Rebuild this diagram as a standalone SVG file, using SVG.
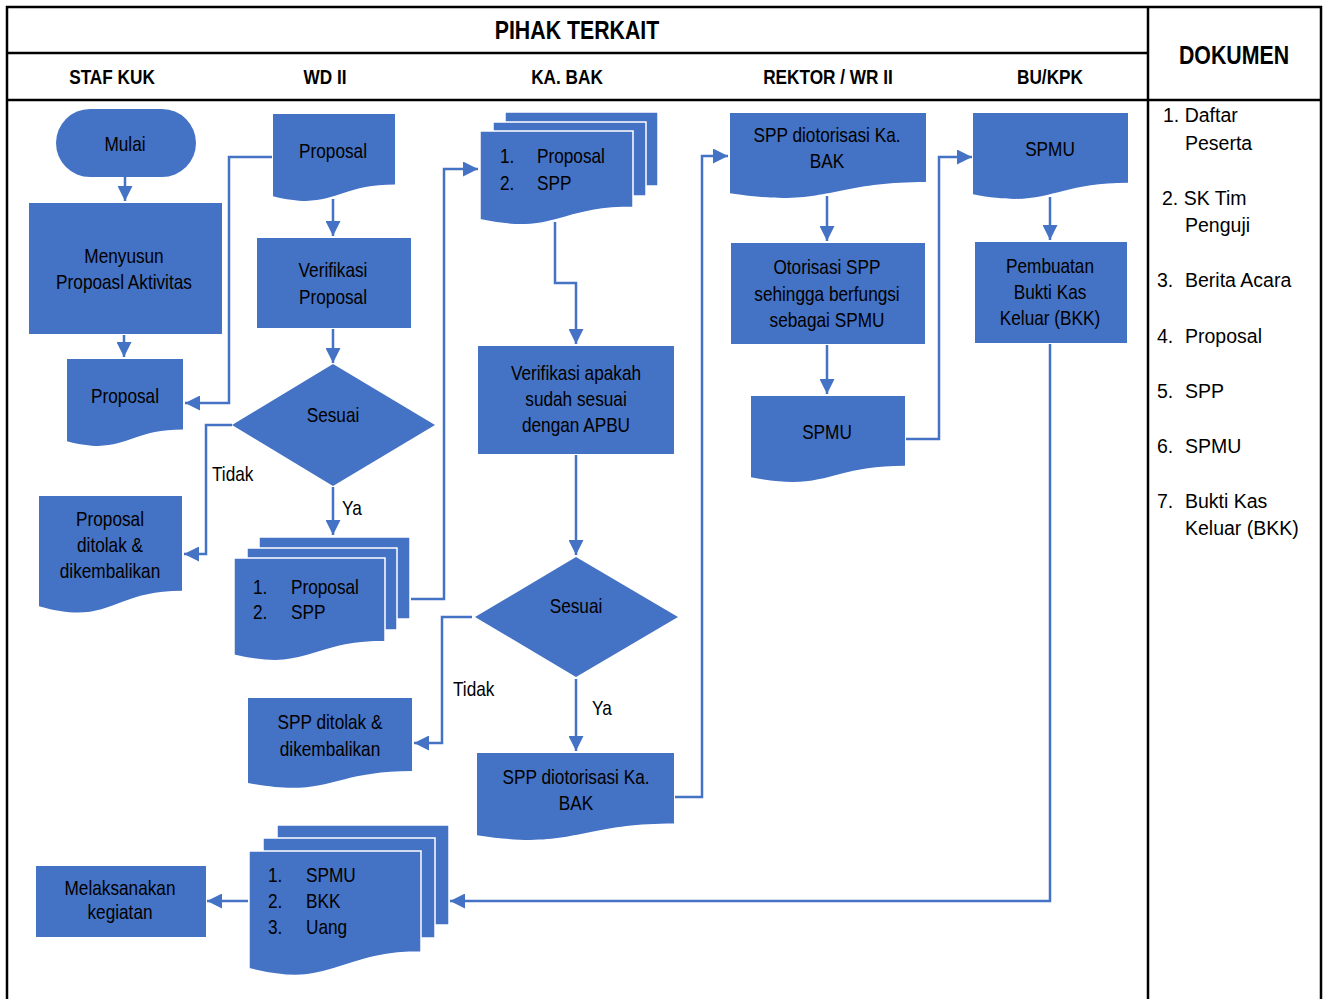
<svg xmlns="http://www.w3.org/2000/svg" width="1325" height="999" viewBox="0 0 1325 999">
<style>
.s{fill:#4472C4}
.sh{fill:#4472C4;stroke:#ffffff;stroke-width:1.5}
.t{font-family:"Liberation Sans",Arial,sans-serif;font-size:21px;fill:#000;text-anchor:middle}
.tl{font-family:"Liberation Sans",Arial,sans-serif;font-size:21px;fill:#000}
.h{font-family:"Liberation Sans",Arial,sans-serif;font-size:21px;font-weight:bold;fill:#000;text-anchor:middle}
.ht{font-family:"Liberation Sans",Arial,sans-serif;font-size:26px;font-weight:bold;fill:#000;text-anchor:middle}
.d{font-family:"Liberation Sans",Arial,sans-serif;font-size:19.5px;fill:#000}
.c{fill:none;stroke:#4472C4;stroke-width:2.5;marker-end:url(#ar)}
.g{fill:none;stroke:#000;stroke-width:2.5}
</style>
<defs>
<symbol id="doc" viewBox="0 0 100 100" preserveAspectRatio="none" overflow="visible">
<path d="M0,0 H100 V80.2 C50,80.2 50,110.75 0,93.4 Z" vector-effect="non-scaling-stroke"/>
</symbol>
<marker id="ar" viewBox="0 0 15 15" refX="15" refY="7.5" markerWidth="15" markerHeight="15" markerUnits="userSpaceOnUse" orient="auto">
<path d="M0,0 L15,7.5 L0,15 Z" fill="#4472C4"/>
</marker>
</defs>
<rect width="1325" height="999" fill="#ffffff"/>
<g id="table">
<path class="g" d="M7,999 V7 H1321 V999 M7,53 H1148 M7,100 H1321 M1148,7 V999"/>
<text class="ht" transform="translate(577,39) scale(.82,1)">PIHAK TERKAIT</text>
<text class="ht" transform="translate(1234,64) scale(.82,1)">DOKUMEN</text>
<text class="h" transform="translate(112,84) scale(.82,1)">STAF KUK</text>
<text class="h" transform="translate(325,84) scale(.82,1)">WD II</text>
<text class="h" transform="translate(567,84) scale(.82,1)">KA. BAK</text>
<text class="h" transform="translate(828,84) scale(.82,1)">REKTOR / WR II</text>
<text class="h" transform="translate(1050,84) scale(.82,1)">BU/KPK</text>
</g>
<g id="dokumen-list">
<text class="d" x="1163" y="122">1. Daftar</text>
<text class="d" x="1185" y="150">Peserta</text>
<text class="d" x="1162" y="205">2. SK Tim</text>
<text class="d" x="1185" y="232">Penguji</text>
<text class="d" x="1157" y="287">3.</text><text class="d" x="1185" y="287">Berita Acara</text>
<text class="d" x="1157" y="343">4.</text><text class="d" x="1185" y="343">Proposal</text>
<text class="d" x="1157" y="398">5.</text><text class="d" x="1185" y="398">SPP</text>
<text class="d" x="1157" y="453">6.</text><text class="d" x="1185" y="453">SPMU</text>
<text class="d" x="1157" y="508">7.</text><text class="d" x="1185" y="508">Bukti Kas</text>
<text class="d" x="1185" y="535">Keluar (BKK)</text>
</g>
<g id="connectors">
<path class="c" d="M125,177 V201"/>
<path class="c" d="M124,335 V357"/>
<path class="c" d="M272,157 H229 V403 H185"/>
<path class="c" d="M333,199 V236"/>
<path class="c" d="M333,329 V363"/>
<path class="c" d="M333,487 V535"/>
<path class="c" d="M232,425 H206 V554 H184"/>
<path class="c" d="M411,599 H444 V169 H478"/>
<path class="c" d="M555,222 V283 H576 V344"/>
<path class="c" d="M576,455 V555"/>
<path class="c" d="M576,679 V751"/>
<path class="c" d="M472,617 H442 V743 H414"/>
<path class="c" d="M675,797 H702 V156 H728"/>
<path class="c" d="M827,196 V241"/>
<path class="c" d="M827,345 V394"/>
<path class="c" d="M906,439 H939 V157 H972"/>
<path class="c" d="M1050,197 V240"/>
<path class="c" d="M1050,344 V901 H450"/>
<path class="c" d="M248,901 H207"/>
<text class="tl" transform="translate(212,481) scale(.82,1)">Tidak</text>
<text class="tl" transform="translate(342,515) scale(.82,1)">Ya</text>
<text class="tl" transform="translate(453,696) scale(.82,1)">Tidak</text>
<text class="tl" transform="translate(592,715) scale(.82,1)">Ya</text>
</g>
<g id="mulai">
<rect class="s" x="56" y="109" width="140" height="68" rx="34"/>
<text class="t" transform="translate(125,151) scale(.82,1)">Mulai</text>
</g>
<g id="menyusun">
<rect class="s" x="29" y="203" width="193" height="131"/>
<text class="t" transform="translate(124,263) scale(.82,1)">Menyusun</text>
<text class="t" transform="translate(124,289) scale(.82,1)">Propoasl Aktivitas</text>
</g>
<g id="proposal-staf">
<use href="#doc" class="s" x="67" y="359" width="116" height="88"/>
<text class="t" transform="translate(125,403) scale(.82,1)">Proposal</text>
</g>
<g id="proposal-ditolak">
<use href="#doc" class="s" x="39" y="496" width="143" height="118"/>
<text class="t" transform="translate(110,526) scale(.82,1)">Proposal</text>
<text class="t" transform="translate(110,552) scale(.82,1)">ditolak &amp;</text>
<text class="t" transform="translate(110,578) scale(.82,1)">dikembalikan</text>
</g>
<g id="proposal-wd">
<use href="#doc" class="s" x="273" y="114" width="122" height="88"/>
<text class="t" transform="translate(333,158) scale(.82,1)">Proposal</text>
</g>
<g id="verifikasi-proposal">
<rect class="s" x="257" y="238" width="154" height="90"/>
<text class="t" transform="translate(333,277) scale(.82,1)">Verifikasi</text>
<text class="t" transform="translate(333,304) scale(.82,1)">Proposal</text>
</g>
<g id="sesuai-1">
<polygon class="s" points="333,364 435,425 333,486 232,425"/>
<text class="t" transform="translate(333,422) scale(.82,1)">Sesuai</text>
</g>
<g id="multidoc-wd">
<rect class="sh" x="259" y="537" width="151" height="82"/>
<rect class="sh" x="247" y="548" width="150" height="82"/>
<use href="#doc" class="sh" x="234" y="558" width="151" height="104"/>
<text class="tl" transform="translate(253,594) scale(.82,1)">1.</text><text class="tl" transform="translate(291,594) scale(.82,1)">Proposal</text>
<text class="tl" transform="translate(253,619) scale(.82,1)">2.</text><text class="tl" transform="translate(291,619) scale(.82,1)">SPP</text>
</g>
<g id="multidoc-bak">
<rect class="sh" x="505" y="112" width="153" height="74"/>
<rect class="sh" x="493" y="122" width="153" height="74"/>
<use href="#doc" class="sh" x="480" y="131" width="153" height="95"/>
<text class="tl" transform="translate(500,163) scale(.82,1)">1.</text><text class="tl" transform="translate(537,163) scale(.82,1)">Proposal</text>
<text class="tl" transform="translate(500,190) scale(.82,1)">2.</text><text class="tl" transform="translate(537,190) scale(.82,1)">SPP</text>
</g>
<g id="verifikasi-apbu">
<rect class="s" x="478" y="346" width="196" height="108"/>
<text class="t" transform="translate(576,380) scale(.82,1)">Verifikasi apakah</text>
<text class="t" transform="translate(576,406) scale(.82,1)">sudah sesuai</text>
<text class="t" transform="translate(576,432) scale(.82,1)">dengan APBU</text>
</g>
<g id="sesuai-2">
<polygon class="s" points="576,557 678,617 576,677 475,617"/>
<text class="t" transform="translate(576,613) scale(.82,1)">Sesuai</text>
</g>
<g id="spp-ditolak">
<use href="#doc" class="s" x="248" y="698" width="164" height="91"/>
<text class="t" transform="translate(330,729) scale(.82,1)">SPP ditolak &amp;</text>
<text class="t" transform="translate(330,756) scale(.82,1)">dikembalikan</text>
</g>
<g id="spp-diotorisasi-bak">
<use href="#doc" class="s" x="477" y="753" width="197" height="88"/>
<text class="t" transform="translate(576,784) scale(.82,1)">SPP diotorisasi Ka.</text>
<text class="t" transform="translate(576,810) scale(.82,1)">BAK</text>
</g>
<g id="spp-diotorisasi-rektor">
<use href="#doc" class="s" x="730" y="113" width="196" height="86"/>
<text class="t" transform="translate(827,142) scale(.82,1)">SPP diotorisasi Ka.</text>
<text class="t" transform="translate(827,168) scale(.82,1)">BAK</text>
</g>
<g id="otorisasi">
<rect class="s" x="731" y="243" width="194" height="101"/>
<text class="t" transform="translate(827,274) scale(.82,1)">Otorisasi SPP</text>
<text class="t" transform="translate(827,301) scale(.82,1)">sehingga berfungsi</text>
<text class="t" transform="translate(827,327) scale(.82,1)">sebagai SPMU</text>
</g>
<g id="spmu-rektor">
<use href="#doc" class="s" x="751" y="396" width="154" height="87"/>
<text class="t" transform="translate(827,439) scale(.82,1)">SPMU</text>
</g>
<g id="spmu-bu">
<use href="#doc" class="s" x="973" y="113" width="155" height="87"/>
<text class="t" transform="translate(1050,156) scale(.82,1)">SPMU</text>
</g>
<g id="pembuatan-bkk">
<rect class="s" x="975" y="242" width="152" height="101"/>
<text class="t" transform="translate(1050,273) scale(.82,1)">Pembuatan</text>
<text class="t" transform="translate(1050,299) scale(.82,1)">Bukti Kas</text>
<text class="t" transform="translate(1050,325) scale(.82,1)">Keluar (BKK)</text>
</g>
<g id="multidoc-bottom">
<rect class="sh" x="277" y="825" width="172" height="100"/>
<rect class="sh" x="263" y="838" width="172" height="100"/>
<use href="#doc" class="sh" x="249" y="851" width="172" height="126"/>
<text class="tl" transform="translate(268,882) scale(.82,1)">1.</text><text class="tl" transform="translate(306,882) scale(.82,1)">SPMU</text>
<text class="tl" transform="translate(268,908) scale(.82,1)">2.</text><text class="tl" transform="translate(306,908) scale(.82,1)">BKK</text>
<text class="tl" transform="translate(268,934) scale(.82,1)">3.</text><text class="tl" transform="translate(306,934) scale(.82,1)">Uang</text>
</g>
<g id="melaksanakan">
<rect class="s" x="36" y="866" width="170" height="71"/>
<text class="t" transform="translate(120,895) scale(.82,1)">Melaksanakan</text>
<text class="t" transform="translate(120,919) scale(.82,1)">kegiatan</text>
</g>
</svg>
